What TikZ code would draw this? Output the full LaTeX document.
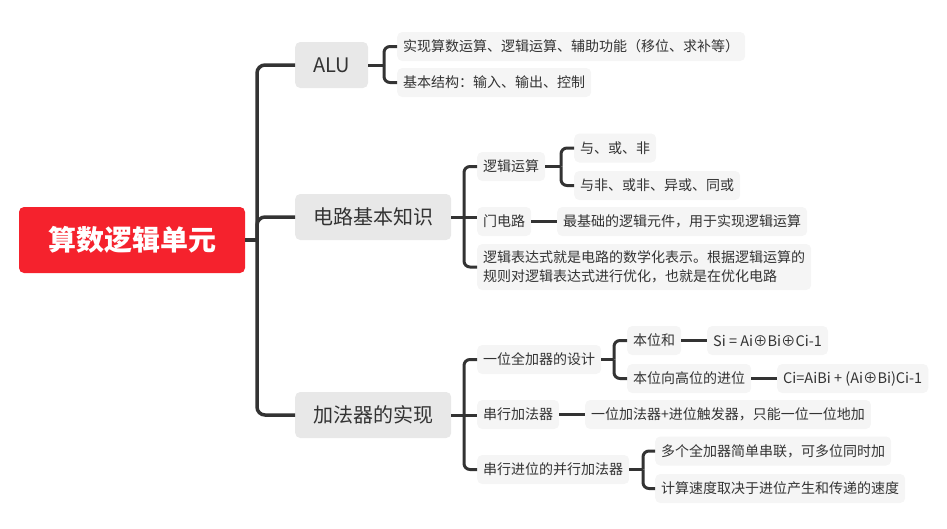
\documentclass[tikz,border=0pt]{standalone}
\usepackage{fontspec}
\setmainfont{Noto Sans CJK SC}
\usetikzlibrary{calc}
\definecolor{rootred}{RGB}{245,34,45}
\definecolor{lvone}{RGB}{232,232,232}
\definecolor{lvtwo}{RGB}{245,245,245}
\definecolor{linec}{RGB}{51,51,51}
\definecolor{txt}{RGB}{51,51,51}
\begin{document}
\begin{tikzpicture}[x=1pt,y=-1pt,
 rootbox/.style={fill=rootred, rounded corners=5pt, text=white, font=\fontsize{28pt}{32pt}\selectfont\bfseries, minimum width=226pt, minimum height=66pt, inner sep=0pt},
 topicbox/.style={fill=lvone, rounded corners=5pt, text=txt, font=\fontsize{20pt}{24pt}\selectfont, minimum height=46pt, inner xsep=18pt, inner ysep=0pt, anchor=west},
 subbox/.style={fill=lvtwo, rounded corners=5pt, text=txt, font=\fontsize{14pt}{19pt}\selectfont, minimum height=29pt, inner xsep=6pt, inner ysep=0pt, anchor=west},
 latinbox/.style={subbox, font=\fontsize{14.5pt}{19pt}\selectfont},
 trunk/.style={draw=linec, line width=3.5pt, rounded corners=8pt},
 conn/.style={draw=linec, line width=3pt, rounded corners=6pt},
]
\useasboundingbox (0,0) rectangle (947,528);

% root and main topics
\node[rootbox] (root) at (132,240) {算数逻辑单元};
\node[topicbox] (alu) at (295,65) {ALU};
\node[topicbox] (circ) at (295,217) {电路基本知识};
\node[topicbox] (add) at (295,415) {加法器的实现};

\coordinate (tr) at (257,240);
\draw[trunk] (root.east) -- (tr);
\draw[trunk] (tr) |- (alu.west);
\draw[trunk] (tr) |- (circ.west);
\draw[trunk] (tr) |- (add.west);

% ALU
\node[subbox] (a1) at (397,46.5) {实现算数运算、逻辑运算、辅助功能（移位、求补等）};
\node[subbox] (a2) at (397,82.5) {基本结构：输入、输出、控制};
\coordinate (ab) at (384,65);
\draw[conn] (alu.east) -- (ab);
\draw[conn] (ab) |- (a1.west);
\draw[conn] (ab) |- (a2.west);

% circuit basics
\node[subbox] (c1) at (477,166.5) {逻辑运算};
\node[subbox] (c2) at (477,221.5) {门电路};
\node[subbox, align=left, minimum height=46pt] (c3) at (477,267) {逻辑表达式就是电路的数学化表示。根据逻辑运算的\\规则对逻辑表达式进行优化，也就是在优化电路};
\coordinate (cb) at (464,217);
\draw[conn] (circ.east) -- (cb);
\draw[conn] (cb) |- (c1.west);
\draw[conn] (cb) -- (c2.west |- cb);
\draw[conn] (cb) |- (c3.west);

\node[subbox] (l1) at (574,148) {与、或、非};
\node[subbox] (l2) at (574,185.5) {与非、或非、异或、同或};
\coordinate (lb) at (561,166.5);
\draw[conn] (c1.east) -- (lb);
\draw[conn] (lb) |- (l1.west);
\draw[conn] (lb) |- (l2.west);

\node[subbox] (g1) at (557,221.5) {最基础的逻辑元件，用于实现逻辑运算};
\draw[conn] (c2.east) -- (g1.west);

% adder
\node[subbox] (d1) at (477,359.5) {一位全加器的设计};
\node[subbox] (d2) at (477,414.5) {串行加法器};
\node[subbox] (d3) at (477,469.5) {串行进位的并行加法器};
\coordinate (db) at (464,415);
\draw[conn] (add.east) -- (db);
\draw[conn] (db) |- (d1.west);
\draw[conn] (db) -- (d2.west |- db);
\draw[conn] (db) |- (d3.west);

\node[subbox] (e1) at (627,340.5) {本位和};
\node[subbox] (e2) at (627,378.5) {本位向高位的进位};
\coordinate (eb) at (614,359.5);
\draw[conn] (d1.east) -- (eb);
\draw[conn] (eb) |- (e1.west);
\draw[conn] (eb) |- (e2.west);

\node[latinbox] (f1) at (707,340.5) {Si = Ai⊕Bi⊕Ci-1};
\node[latinbox] (f2) at (777,378.5) {Ci=AiBi + (Ai⊕Bi)Ci-1};
\draw[conn] (e1.east) -- (f1.west);
\draw[conn] (e2.east) -- (f2.west);

\node[subbox] (g2) at (585,414.5) {一位加法器+进位触发器，只能一位一位地加};
\draw[conn] (d2.east) -- (g2.west);

\node[subbox] (h1) at (655,451) {多个全加器简单串联，可多位同时加};
\node[subbox] (h2) at (655,488.5) {计算速度取决于进位产生和传递的速度};
\coordinate (hb) at (643,469.5);
\draw[conn] (d3.east) -- (hb);
\draw[conn] (hb) |- (h1.west);
\draw[conn] (hb) |- (h2.west);
\end{tikzpicture}
\end{document}
